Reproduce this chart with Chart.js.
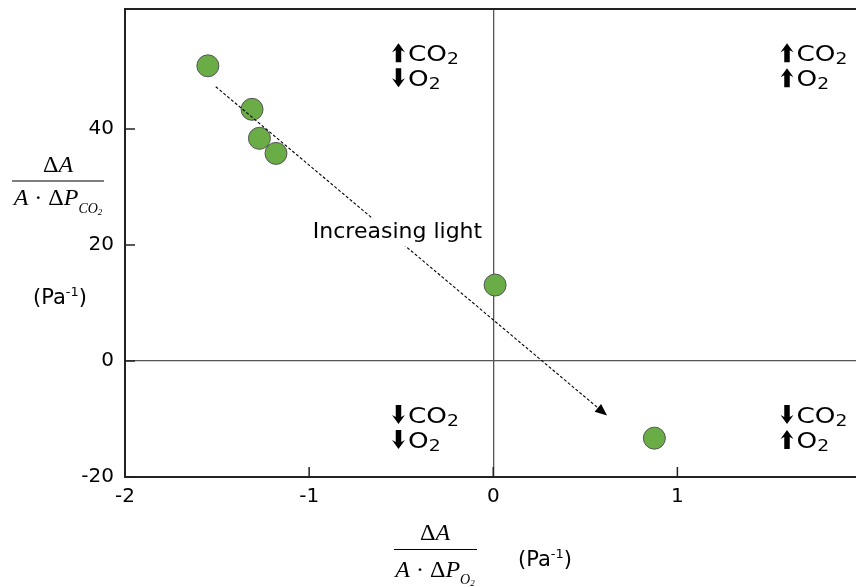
<!DOCTYPE html>
<html>
<head>
<meta charset="utf-8">
<script src="https://cdn.jsdelivr.net/npm/chart.js@4.4.1/dist/chart.umd.min.js"></script>
<style>
  html, body { margin: 0; padding: 0; background: #fff; overflow: hidden; }
  #wrap { width: 856px; height: 587px; position: relative; }
  #wrap canvas { display: block; }
</style>
</head>
<body>
<div id="wrap"><canvas id="chart"></canvas></div>
<script>
// values
const xValues = [-1.55, -1.31, -1.27, -1.18, 0.01, 0.875];
const yValues = [50.9, 43.4, 38.4, 35.8, 13.1, -13.3];
const xTicks = [-2, -1, 0, 1];
const yTicks = [-20, 0, 20, 40];

// annotation anchors, in data units
const quadrants = [
  { x: -0.55, y: 51.7, co2: "up", o2: "down" },
  { x: 1.56, y: 51.7, co2: "up", o2: "up" },
  { x: -0.55, y: -10.7, co2: "down", o2: "down" },
  { x: 1.56, y: -10.7, co2: "down", o2: "up" },
];
const lightArrow = { from: [-1.507, 47.3], to: [0.618, -9.4] };
const lightLabel = { x: -0.52, y: 22.2, text: "Increasing light" };

const SANS = "'DejaVu Sans', sans-serif";
const SERIF = "'Liberation Serif', 'DejaVu Serif', serif";

// draw a row of text pieces with their own fonts / offsets
function drawRuns(ctx, x, y, parts, align, stretch) {
  const k = stretch || 1;
  let total = 0;
  parts.forEach((p) => {
    ctx.font = p.f;
    p.w = ctx.measureText(p.t).width;
    total += p.w;
  });
  let cx = align === "center" ? x - (total * k) / 2 : x;
  ctx.save();
  ctx.translate(cx, y);
  ctx.scale(k, 1);
  ctx.textAlign = "left";
  ctx.textBaseline = "alphabetic";
  let ox = 0;
  parts.forEach((p) => {
    ctx.font = p.f;
    ctx.fillText(p.t, ox, p.dy || 0);
    ox += p.w;
  });
  ctx.restore();
}

function boldArrow(ctx, left, baseline, up) {
  const w = 13, h = 19, shaft = 5.5, head = 9;
  const cx = left + w / 2;
  const top = baseline - h + 1, bot = baseline + 1;
  ctx.beginPath();
  if (up) {
    ctx.moveTo(cx, top);
    ctx.lineTo(left + w, top + head);
    ctx.lineTo(cx + shaft / 2, top + head - 2);
    ctx.lineTo(cx + shaft / 2, bot);
    ctx.lineTo(cx - shaft / 2, bot);
    ctx.lineTo(cx - shaft / 2, top + head - 2);
    ctx.lineTo(left, top + head);
  } else {
    ctx.moveTo(cx, bot);
    ctx.lineTo(left + w, bot - head);
    ctx.lineTo(cx + shaft / 2, bot - head + 2);
    ctx.lineTo(cx + shaft / 2, top);
    ctx.lineTo(cx - shaft / 2, top);
    ctx.lineTo(cx - shaft / 2, bot - head + 2);
    ctx.lineTo(left, bot - head);
  }
  ctx.closePath();
  ctx.fill();
}

const extras = {
  id: "extras",
  afterDraw(chart) {
    const { ctx, chartArea: a, scales } = chart;
    const sx = scales.x, sy = scales.y;
    ctx.save();
    ctx.fillStyle = "#000";
    ctx.strokeStyle = "#222";

    // top frame line
    ctx.lineWidth = 2;
    ctx.beginPath();
    ctx.moveTo(a.left - 1, a.top);
    ctx.lineTo(a.right, a.top);
    ctx.stroke();

    // inward tick marks
    ctx.lineWidth = 1.5;
    ctx.beginPath();
    yTicks.forEach((v) => {
      const py = sy.getPixelForValue(v);
      ctx.moveTo(a.left, py);
      ctx.lineTo(a.left + 10, py);
    });
    xTicks.forEach((v) => {
      const px = sx.getPixelForValue(v);
      ctx.moveTo(px, a.bottom);
      ctx.lineTo(px, a.bottom - 10);
    });
    ctx.stroke();

    // dashed "increasing light" arrow
    const x0 = sx.getPixelForValue(lightArrow.from[0]);
    const y0 = sy.getPixelForValue(lightArrow.from[1]);
    const x1 = sx.getPixelForValue(lightArrow.to[0]);
    const y1 = sy.getPixelForValue(lightArrow.to[1]);
    const ang = Math.atan2(y1 - y0, x1 - x0);
    ctx.strokeStyle = "#000";
    ctx.lineWidth = 1.1;
    ctx.setLineDash([3, 2]);
    ctx.beginPath();
    ctx.moveTo(x0, y0);
    ctx.lineTo(x1 - 8 * Math.cos(ang), y1 - 8 * Math.sin(ang));
    ctx.stroke();
    ctx.setLineDash([]);
    ctx.beginPath();
    ctx.moveTo(x1, y1);
    ctx.lineTo(x1 - 12 * Math.cos(ang) + 5 * Math.sin(ang), y1 - 12 * Math.sin(ang) - 5 * Math.cos(ang));
    ctx.lineTo(x1 - 12 * Math.cos(ang) - 5 * Math.sin(ang), y1 - 12 * Math.sin(ang) + 5 * Math.cos(ang));
    ctx.closePath();
    ctx.fill();

    // label with white box over the line
    const lx = sx.getPixelForValue(lightLabel.x);
    const ly = sy.getPixelForValue(lightLabel.y);
    ctx.font = "22px " + SANS;
    const tw = ctx.measureText(lightLabel.text).width;
    ctx.fillStyle = "#fff";
    ctx.fillRect(lx - tw / 2 - 4, ly - 14, tw + 8, 28);
    ctx.fillStyle = "#000";
    ctx.textAlign = "center";
    ctx.textBaseline = "middle";
    ctx.fillText(lightLabel.text, lx, ly);

    // quadrant labels
    quadrants.forEach((q) => {
      const px = sx.getPixelForValue(q.x);
      const py = sy.getPixelForValue(q.y);
      boldArrow(ctx, px, py, q.co2 === "up");
      drawRuns(ctx, px + 16, py, [
        { t: "CO", f: "21px " + SANS },
        { t: "2", f: "15px " + SANS, dy: 3 },
      ], "left", 1.25);
      boldArrow(ctx, px, py + 25, q.o2 === "up");
      drawRuns(ctx, px + 16, py + 25, [
        { t: "O", f: "21px " + SANS },
        { t: "2", f: "15px " + SANS, dy: 3 },
      ], "left", 1.25);
    });

    // y axis title
    const ital = "italic 24px " + SERIF, reg = "24px " + SERIF;
    drawRuns(ctx, 58, 172, [{ t: "Δ", f: reg }, { t: "A", f: ital }], "center");
    ctx.lineWidth = 1.2;
    ctx.beginPath();
    ctx.moveTo(12, 181);
    ctx.lineTo(104, 181);
    ctx.stroke();
    drawRuns(ctx, 58, 205, [
      { t: "A", f: ital }, { t: " · ", f: reg }, { t: "Δ", f: reg }, { t: "P", f: ital },
      { t: "CO", f: "italic 14px " + SERIF, dy: 8 }, { t: "2", f: "italic 9px " + SERIF, dy: 10 },
    ], "center");
    drawRuns(ctx, 33, 304, [
      { t: "(Pa", f: "21px " + SANS },
      { t: "-1", f: "13px " + SANS, dy: -8 },
      { t: ")", f: "21px " + SANS },
    ]);

    // x axis title
    drawRuns(ctx, 435, 540, [{ t: "Δ", f: reg }, { t: "A", f: ital }], "center");
    ctx.beginPath();
    ctx.moveTo(394, 549.5);
    ctx.lineTo(477, 549.5);
    ctx.stroke();
    drawRuns(ctx, 435, 577, [
      { t: "A", f: ital }, { t: " · ", f: reg }, { t: "Δ", f: reg }, { t: "P", f: ital },
      { t: "O", f: "italic 14px " + SERIF, dy: 7 }, { t: "2", f: "italic 9px " + SERIF, dy: 9 },
    ], "center");
    drawRuns(ctx, 518, 566, [
      { t: "(Pa", f: "21px " + SANS },
      { t: "-1", f: "13px " + SANS, dy: -8 },
      { t: ")", f: "21px " + SANS },
    ]);

    ctx.restore();
  },
};

const zeroLine = (c) => (c.tick && c.tick.value === 0 ? "#555" : "rgba(0,0,0,0)");

new Chart(document.getElementById("chart"), {
  type: "scatter",
  data: {
    datasets: [
      {
        data: xValues.map((x, i) => ({ x, y: yValues[i] })),
        backgroundColor: "#6aac46",
        borderColor: "#555",
        borderWidth: 1,
        pointRadius: 11,
        pointHoverRadius: 11,
      },
    ],
  },
  options: {
    responsive: true,
    maintainAspectRatio: false,
    animation: false,
    layout: { autoPadding: false, padding: { top: 9, right: 0, left: 0, bottom: 0 } },
    plugins: { legend: { display: false }, tooltip: { enabled: false } },
    scales: {
      x: {
        type: "linear",
        min: -2,
        max: 1.97,
        afterBuildTicks: (s) => { s.ticks = xTicks.map((v) => ({ value: v })); },
        afterFit: (s) => { s.height = 110; s.paddingLeft = 0; s.paddingRight = 0; },
        grid: { color: zeroLine, lineWidth: 1.3, drawTicks: false },
        border: { color: "#222", width: 2 },
        ticks: { color: "#000", font: { family: SANS, size: 20 }, padding: 8, maxRotation: 0 },
      },
      y: {
        type: "linear",
        min: -20,
        max: 60.7,
        afterBuildTicks: (s) => { s.ticks = yTicks.map((v) => ({ value: v })); },
        afterFit: (s) => { s.width = 125; s.paddingTop = 0; s.paddingBottom = 0; },
        grid: { color: zeroLine, lineWidth: 1.3, drawTicks: false },
        border: { color: "#222", width: 2 },
        ticks: { color: "#000", font: { family: SANS, size: 20 }, padding: 11 },
      },
    },
  },
  plugins: [extras],
});
</script>
</body>
</html>
